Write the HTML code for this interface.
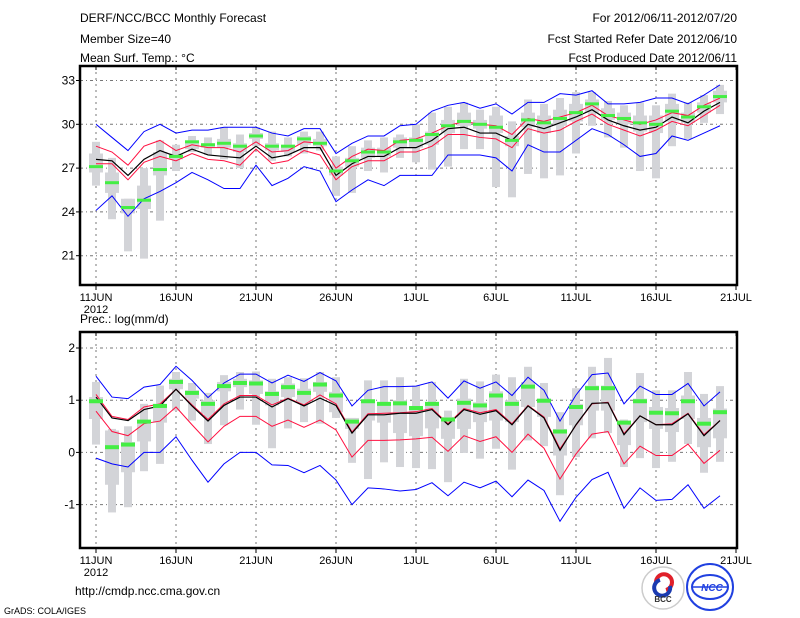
<!DOCTYPE html>
<html><head><meta charset="utf-8">
<style>
html,body{margin:0;padding:0;background:#fff;}
svg{display:block;font-family:"Liberation Sans",sans-serif;}
.t{font-size:12px;fill:#000;}
.s{font-size:11px;fill:#000;}
</style></head>
<body>
<svg id="chart" width="800" height="618" viewBox="0 0 800 618" xmlns="http://www.w3.org/2000/svg">
<g>
<text class="t" x="80" y="22">DERF/NCC/BCC Monthly Forecast</text>
<text class="t" x="80" y="43">Member Size=40</text>
<text class="t" x="80" y="62">Mean Surf. Temp.: °C</text>
<text class="t" x="737" y="22" text-anchor="end">For 2012/06/11-2012/07/20</text>
<text class="t" x="737" y="43" text-anchor="end">Fcst Started Refer Date 2012/06/10</text>
<text class="t" x="737" y="62" text-anchor="end">Fcst Produced Date 2012/06/11</text>
<text class="t" x="80" y="323">Prec.: log(mm/d)</text>
<text class="t" x="75" y="595">http://cmdp.ncc.cma.gov.cn</text>
<text x="4" y="614" style="font-size:9px">GrADS: COLA/IGES</text>
</g>
<g>
<circle cx="663" cy="588" r="21" fill="#fff" stroke="#ccc" stroke-width="1.5"/>
<path d="M656 582 a8 8 0 1 1 10 8" fill="none" stroke="#e0202a" stroke-width="4"/>
<path d="M670 586 a8 8 0 1 1 -10 -6" fill="none" stroke="#1a3ab0" stroke-width="4"/>
<text x="663" y="602" text-anchor="middle" style="font-size:8px;font-weight:bold" fill="#333">BCC</text>
</g>
<g>
<circle cx="710" cy="587" r="23" fill="#fff" stroke="#2040e0" stroke-width="2"/>
<ellipse cx="710" cy="587" rx="18" ry="12" fill="none" stroke="#2040e0" stroke-width="2"/>
<line x1="692" y1="587" x2="728" y2="587" stroke="#2040e0" stroke-width="1.5"/>
<text x="712" y="591" text-anchor="middle" style="font-size:10px;font-weight:bold;font-style:italic" fill="#2040e0">NCC</text>
</g>
<g id="plots"></g>
</svg>
<script>
// ---------- data ----------
const days = Array.from({length:40},(_, i)=>i);
const dateTicks = [0,5,10,15,20,25,30,35,40];
const dateLabels = ["11JUN","16JUN","21JUN","26JUN","1JUL","6JUL","11JUL","16JUL","21JUL"];
const tempTicks = [21,24,27,30,33];
const precTicks = [-1,0,1,2];

const tBlueHi = [30.0,29.1,28.2,29.5,30.0,29.4,29.6,29.6,29.8,29.8,29.8,29.4,29.2,29.7,29.7,28.0,28.7,29.2,29.2,29.9,30.0,30.9,31.3,31.5,31.1,31.4,30.7,31.5,31.5,32.1,32.0,32.3,31.4,31.4,31.5,31.8,31.8,31.4,32.0,32.7];
const tBlueLo = [24.1,25.1,23.7,24.9,25.4,26.0,26.7,26.2,25.6,25.6,27.2,25.8,26.3,27.1,26.8,24.7,25.5,26.2,25.8,26.5,26.5,26.5,27.9,27.9,27.9,27.7,26.8,28.6,28.1,28.1,28.9,29.7,29.3,28.6,27.8,28.0,29.2,28.9,29.4,29.9];
const tRedHi = [28.5,28.1,27.2,28.5,28.9,28.2,28.6,28.4,28.4,28.1,28.8,28.1,28.2,28.8,28.7,27.0,27.8,28.3,28.2,28.9,29.0,29.4,29.9,30.2,30.0,29.9,29.3,30.4,30.2,30.5,30.8,31.3,30.6,30.3,30.0,30.3,30.8,30.6,31.3,31.8];
const tMean = [27.6,27.5,26.5,27.6,28.2,27.8,28.3,27.9,27.8,27.7,28.5,27.7,27.9,28.4,28.4,26.5,27.3,27.8,27.8,28.4,28.4,28.9,29.7,29.8,29.4,29.4,28.9,30.0,29.7,30.1,30.5,31.0,30.3,29.9,29.6,29.8,30.5,30.1,30.9,31.5];
const tRedLo = [27.3,27.3,26.2,27.4,27.8,27.5,28.0,27.6,27.5,27.2,28.3,27.3,27.5,28.2,27.9,26.2,27.1,27.5,27.5,28.1,28.1,28.5,29.3,29.3,29.1,29.0,28.4,29.7,29.4,29.6,30.2,30.7,30.0,29.6,29.2,29.6,30.2,29.9,30.6,31.3];
const tMax = [28.8,27.7,24.9,27.0,28.9,28.6,29.2,29.1,29.8,29.3,29.8,29.5,29.1,29.5,29.5,27.8,28.5,28.9,29.1,29.3,30.0,30.8,31.2,31.5,31.0,31.2,30.2,31.7,31.4,31.8,32.2,32.2,31.6,31.3,31.5,31.3,32.1,31.5,32.0,32.7];
const tQ3 = [28.0,26.7,24.9,25.8,28.1,28.0,28.9,28.7,29.0,28.7,29.4,28.7,28.6,29.2,29.0,27.1,27.7,28.4,28.4,29.1,29.1,29.5,30.3,30.8,30.3,30.6,29.2,30.8,30.6,31.0,31.4,31.7,31.1,30.8,30.6,30.6,31.4,30.8,31.5,32.3];
const tMed = [27.1,26.0,24.3,24.8,26.9,27.8,28.8,28.6,28.7,28.5,29.2,28.5,28.5,29.0,28.7,26.8,27.5,28.1,28.1,28.8,28.9,29.3,29.9,30.2,30.0,29.8,28.9,30.3,30.1,30.4,30.8,31.4,30.6,30.4,30.1,30.0,30.9,30.5,31.2,31.9];
const tQ1 = [26.7,25.3,23.9,24.2,26.5,27.6,28.3,28.4,28.4,28.1,29.0,28.2,28.1,28.6,28.5,26.5,27.1,27.7,27.8,28.4,28.4,28.6,29.4,29.9,29.7,29.4,28.5,29.8,29.4,29.9,30.2,30.8,30.3,30.0,29.5,29.4,30.2,30.1,30.8,31.5];
const tMin = [25.8,23.5,21.3,20.8,23.4,26.8,28.1,27.9,27.6,27.0,28.5,27.5,27.8,28.0,28.2,25.1,25.3,26.8,26.7,27.7,27.4,26.9,27.1,28.3,28.3,25.7,25.0,26.6,26.3,26.5,28.0,29.9,29.1,28.4,26.8,26.3,28.5,29.0,30.1,30.7];

const pBlueHi = [1.46,1.06,1.03,1.25,1.30,1.65,1.38,1.05,1.33,1.50,1.50,1.33,1.48,1.36,1.53,1.37,0.89,1.19,1.26,1.26,1.27,1.35,1.04,1.37,1.23,1.35,1.09,1.44,1.19,0.60,1.10,1.49,1.52,0.93,1.27,1.11,1.11,1.32,0.89,1.16];
const pBlueLo = [-0.11,-0.22,-0.28,0.0,0.0,0.30,-0.15,-0.57,-0.22,0.0,0.0,-0.24,-0.25,-0.39,-0.25,-0.53,-1.0,-0.68,-0.70,-0.74,-0.71,-0.58,-0.83,-0.57,-0.68,-0.55,-0.85,-0.53,-0.73,-1.32,-0.86,-0.52,-0.38,-1.07,-0.68,-0.92,-0.90,-0.62,-1.07,-0.83];
const pRedHi = [1.11,0.69,0.63,0.87,0.93,1.21,0.91,0.63,0.93,1.09,1.09,0.91,1.04,0.91,1.10,0.93,0.39,0.74,0.75,0.76,0.78,0.84,0.55,0.84,0.76,0.82,0.55,0.90,0.68,0.07,0.52,0.93,0.96,0.36,0.70,0.53,0.55,0.75,0.34,0.61];
const pMean = [1.06,0.66,0.61,0.82,0.89,1.21,0.89,0.60,0.90,1.06,1.06,0.87,1.03,0.89,1.04,0.90,0.37,0.72,0.72,0.75,0.75,0.82,0.53,0.82,0.73,0.80,0.53,0.89,0.66,0.04,0.53,0.94,0.95,0.34,0.70,0.53,0.53,0.74,0.32,0.61];
const pRedLo = [0.79,0.40,0.32,0.55,0.60,0.87,0.53,0.20,0.50,0.69,0.69,0.50,0.62,0.48,0.62,0.43,-0.09,0.23,0.23,0.24,0.26,0.29,0.02,0.32,0.21,0.30,0.0,0.35,0.08,-0.51,-0.03,0.35,0.40,-0.22,0.12,-0.06,-0.06,0.16,-0.21,0.04];
const pMax = [1.35,0.45,0.50,0.93,1.28,1.54,1.33,1.14,1.48,1.54,1.55,1.41,1.44,1.42,1.54,1.44,0.66,1.38,1.38,1.44,1.28,1.35,0.80,1.41,1.36,1.49,1.44,1.64,1.33,0.77,1.23,1.64,1.81,0.63,1.52,1.19,1.19,1.54,1.12,1.27];
const pQ3 = [1.06,0.42,0.20,0.59,0.93,1.41,1.19,1.00,1.35,1.41,1.38,1.17,1.32,1.22,1.35,1.16,0.66,1.00,0.96,1.00,0.89,0.96,0.68,1.03,0.96,1.17,1.00,1.35,1.03,0.45,0.93,1.28,1.28,0.61,1.03,0.87,0.85,1.09,0.66,0.84];
const pMed = [0.98,0.10,0.15,0.59,0.89,1.35,1.14,0.93,1.27,1.33,1.32,1.12,1.25,1.14,1.30,1.09,0.59,0.98,0.93,0.94,0.85,0.93,0.63,0.95,0.90,1.09,0.93,1.26,0.99,0.40,0.87,1.23,1.23,0.57,0.98,0.76,0.75,0.98,0.55,0.77];
const pQ1 = [0.64,-0.62,-0.38,0.21,0.57,1.21,1.03,0.74,1.17,1.25,1.12,0.90,1.06,0.96,1.16,0.77,0.45,0.61,0.57,0.37,0.31,0.46,0.26,0.45,0.58,0.61,0.58,0.87,0.68,-0.06,0.52,0.80,0.80,0.14,0.58,0.45,0.39,0.64,0.10,0.27];
const pMin = [0.15,-1.15,-1.05,-0.36,-0.22,0.80,0.61,0.16,0.52,0.82,0.53,0.08,0.46,0.58,0.55,0.66,-0.20,-0.51,-0.19,-0.28,-0.30,-0.32,-0.57,-0.01,-0.12,0.07,-0.33,0.23,0.12,-0.82,-0.09,0.27,0.37,-0.28,-0.11,-0.30,-0.18,0.16,-0.39,-0.18];

// ---------- axes ----------
const X0=80, X1=737;
const xs = d => 96 + 16*d;
const TOP={y0:66,y1:285};
const BOT={y0:332,y1:548};
const yt = v => 80.5 + (33 - v)*14.6;
const yb = v => 348 + (2 - v)*52.2;

const NS="http://www.w3.org/2000/svg";
const root=document.getElementById('plots');
function mk(tag, attrs, parent){
  const e=document.createElementNS(NS,tag);
  for(const k in attrs) e.setAttribute(k, attrs[k]);
  (parent||root).appendChild(e);
  return e;
}

function panel(P, y, ticks, tickFmt, mx, q3, md, q1, mn, bHi, bLo, rHi, mean, rLo, prefix, greenH){
  const g=mk('g',{});
  
  
  // clip
  const grid=mk('g',{stroke:'#777','stroke-width':1,'stroke-dasharray':'3,3,1,3'},g);
  
  
  ticks.forEach(v=>{
    mk('line',{x1:X0,x2:X1,y1:y(v),y2:y(v)},grid);
  });
  dateTicks.slice(0,8).forEach(d=>{
    mk('line',{x1:xs(d),x2:xs(d),y1:P.y0,y2:P.y1,'stroke-dasharray':'2,4'},grid);
  });
  // boxes
  const bx=mk('g',{fill:'#d3d4d8'},g);
  
  
  days.forEach(d=>{
    const cx=xs(d);
    const w=mk('rect',{x:cx-4,width:8,y:y(mx[d]),height:Math.max(1,y(mn[d])-y(mx[d]))},bx);
    
    
    const b=mk('rect',{x:cx-7,width:14,y:y(q3[d]),height:Math.max(1,y(q1[d])-y(q3[d]))},bx);
    
    
  });
  function line(vals,color,name,wd){
    const pts=days.map(d=>xs(d)+','+y(vals[d])).join(' ');
    const l=mk('polyline',{points:pts,fill:'none',stroke:color,'stroke-width':wd||1},g);
    
    
  }
  line(bHi,'#0000ff',prefix+'-blue-upper-line');
  line(bLo,'#0000ff',prefix+'-blue-lower-line');
  line(rHi,'#ff1040',prefix+'-red-upper-line');
  line(rLo,'#ff1040',prefix+'-red-lower-line');
  line(mean,'#000',prefix+'-mean-line',1.2);
  const gm=mk('g',{fill:'#44ee44'},g);
  
  
  days.forEach(d=>{
    const r=mk('rect',{x:xs(d)-7,width:14,y:y(md[d])-greenH/2,height:greenH},gm);
    
    
  });
  // frame
  const fr=mk('rect',{x:X0,y:P.y0,width:X1-X0,height:P.y1-P.y0,fill:'none',stroke:'#000','stroke-width':2.5},g);
  
  
  // y ticks
  const ya=mk('g',{},g);
  
  
  ticks.forEach(v=>{
    mk('line',{x1:X0-4,x2:X0,y1:y(v),y2:y(v),stroke:'#000'},ya);
    const t=mk('text',{x:X0-5,y:y(v)+4,'text-anchor':'end',class:'t'},ya);
    t.textContent=tickFmt(v);
  });
  // x ticks
  const xa=mk('g',{},g);
  
  
  dateTicks.forEach((d,i)=>{
    const x=Math.min(xs(d),X1);
    mk('line',{x1:x,x2:x,y1:P.y1,y2:P.y1+5,stroke:'#000'},xa);
    mk('line',{x1:x,x2:x,y1:P.y0,y2:P.y0+4,stroke:'#000'},xa);
    const t=mk('text',{x:x,y:P.y1+16,'text-anchor':'middle',class:'s'},xa);
    t.textContent=dateLabels[i];
  });
  const yr=mk('text',{x:xs(0),y:P.y1+28,'text-anchor':'middle',class:'s'},xa);
  yr.textContent='2012';
}
panel(TOP,yt,tempTicks,v=>String(v),tMax,tQ3,tMed,tQ1,tMin,tBlueHi,tBlueLo,tRedHi,tMean,tRedLo,'temperature',3);
panel(BOT,yb,precTicks,v=>String(v),pMax,pQ3,pMed,pQ1,pMin,pBlueHi,pBlueLo,pRedHi,pMean,pRedLo,'precipitation',4);
</script>
</body></html>
